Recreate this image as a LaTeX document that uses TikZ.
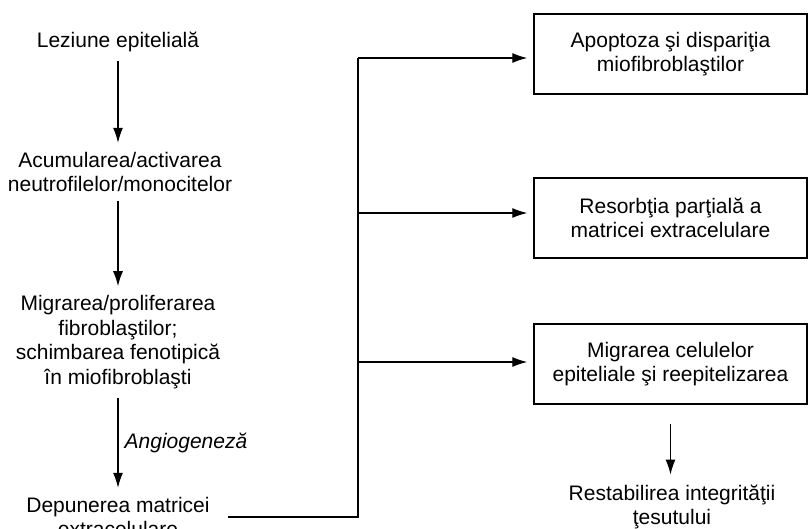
\documentclass[tikz,border=0pt]{standalone}
\usepackage{fontspec}
\setmainfont{Liberation Sans}
\usetikzlibrary{arrows.meta}
\tikzset{
  txt/.style={inner sep=0pt, align=center, font=\fontsize{21}{24.5}\selectfont},
  boxnode/.style={txt, draw, line width=1.4pt, minimum width=273pt, minimum height=80pt},
  conn/.style={line width=1.3pt},
  arr/.style={conn, -{Latex[length=15pt,width=10pt]}},
}
\begin{document}
\begin{tikzpicture}[x=1pt,y=-1pt]
\useasboundingbox (0,0) rectangle (808,529);
% left column
\node[txt] (lez) at (118,42) {Leziune epitelială};
\node[txt] (acu) at (120,172) {Acumularea/activarea\\neutrofilelor/monocitelor};
\node[txt] (mig) at (118,342) {Migrarea/proliferarea\\fibroblaştilor;\\schimbarea fenotipică\\în miofibroblaşti};
\node[txt] (dep) at (118,517) {Depunerea matricei\\extracelulare};
% right column
\node[boxnode] (b1) at (670.5,54) {Apoptoza şi dispariţia\\miofibroblaştilor};
\node[boxnode] (b2) at (670.5,218) {Resorbţia parţială a\\matricei extracelulare};
\node[boxnode] (b3) at (670.5,364) {Migrarea celulelor\\epiteliale şi reepitelizarea};
\node[txt] (res) at (672,507) {Restabilirea integrităţii\\ţesutului};
% left arrows
\draw[arr, shorten <=9pt, shorten >=9pt] (lez.south) -- (lez.south |- acu.north);
\draw[arr, shorten <=9pt, shorten >=9pt] (acu.south -| lez.south) -- (mig.north -| lez.south);
\draw[arr, shorten <=9pt, shorten >=9pt] (mig.south) -- (dep.north)
  node[midway, right=6pt, txt, font=\fontsize{21}{24.5}\selectfont\itshape] {Angiogeneză};
% bus
\coordinate (e1) at ([yshift=-4pt]b1.west);
\coordinate (e2) at ([yshift=5pt]b2.west);
\coordinate (e3) at ([yshift=2pt]b3.west);
\coordinate (top) at (358,0 |- e1);
\draw[conn, shorten <=18pt] (dep.east) -| (top);
\draw[arr, shorten >=6pt] (top) -- (e1);
\draw[arr, shorten >=6pt] (e2 -| top) -- (e2);
\draw[arr, shorten >=6pt] (e3 -| top) -- (e3);
% bottom right arrow
\draw[arr, shorten <=19pt, shorten >=10pt] (b3.south) -- (b3.south |- res.north);
\end{tikzpicture}
\end{document}
